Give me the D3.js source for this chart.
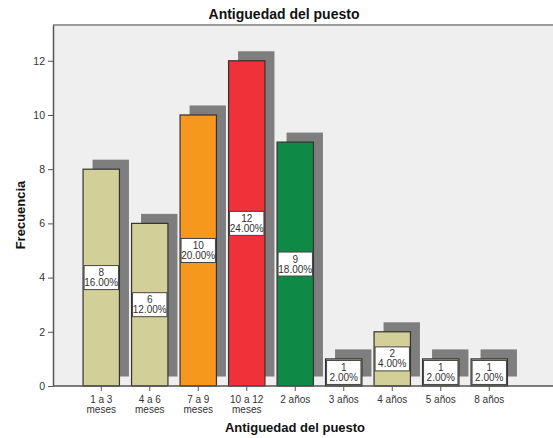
<!DOCTYPE html>
<html>
<head>
<meta charset="utf-8">
<script src="https://cdn.jsdelivr.net/npm/d3@7"></script>
<style>
  html, body { margin: 0; padding: 0; background: #fff; }
  svg { display: block; font-family: Arial, "Liberation Sans", sans-serif; }
</style>
</head>
<body>
<svg id="chart" width="553" height="438"></svg>
<script>
// Frequency of job seniority categories
const categories = ["1 a 3 meses", "4 a 6 meses", "7 a 9 meses", "10 a 12 meses", "2 años", "3 años", "4 años", "5 años", "8 años"];
const tickLines = [["1 a 3", "meses"], ["4 a 6", "meses"], ["7 a 9", "meses"], ["10 a 12", "meses"], ["2 años"], ["3 años"], ["4 años"], ["5 años"], ["8 años"]];
const counts = [8, 6, 10, 12, 9, 1, 2, 1, 1];
const percents = ["16.00%", "12.00%", "20.00%", "24.00%", "18.00%", "2.00%", "4.00%", "2.00%", "2.00%"];
const barColors = ["#D3CF99", "#D3CF99", "#F7971E", "#EF3139", "#0F8A45", "#D3CF99", "#D3CF99", "#D3CF99", "#D3CF99"];
const yTicks = [0, 2, 4, 6, 8, 10, 12];

const svg = d3.select("#chart");
const plot = { left: 53, top: 25, right: 553, bottom: 386 };
const depth = 9.5;
const smallFont = "Arial, 'Liberation Sans', sans-serif";

const x = d3.scaleBand()
  .domain(categories)
  .range([77, 513.5])
  .paddingInner(0.25)
  .paddingOuter(0.125);

const y = d3.scaleLinear()
  .domain([0, 13.32])
  .range([plot.bottom, plot.top]);

const rows = categories.map((c, i) => ({ cat: c, n: counts[i], pct: percents[i], color: barColors[i], lines: tickLines[i] }));

// plot background
svg.append("rect")
  .attr("x", plot.left).attr("y", plot.top)
  .attr("width", plot.right - plot.left).attr("height", plot.bottom - plot.top)
  .attr("fill", "#EFEFEF");

// top frame line
svg.append("line")
  .attr("x1", plot.left).attr("x2", plot.right)
  .attr("y1", plot.top).attr("y2", plot.top)
  .attr("stroke", "#9A9A9A").attr("stroke-width", 2);

// chart title
svg.append("text")
  .attr("x", 284).attr("y", 19)
  .attr("text-anchor", "middle")
  .attr("font-size", 14).attr("font-weight", "bold")
  .attr("fill", "#111")
  .text("Antiguedad del puesto");

// drop shadows behind bars
svg.append("g").selectAll("rect")
  .data(rows).join("rect")
  .attr("x", d => x(d.cat) + depth)
  .attr("y", d => y(d.n) - depth)
  .attr("width", x.bandwidth())
  .attr("height", d => y(0) - y(d.n))
  .attr("fill", "#7E7E7E");

// bars
svg.append("g").selectAll("rect")
  .data(rows).join("rect")
  .attr("x", d => x(d.cat))
  .attr("y", d => y(d.n))
  .attr("width", x.bandwidth())
  .attr("height", d => y(0) - y(d.n))
  .attr("fill", d => d.color)
  .attr("stroke", "#333")
  .attr("stroke-width", 1.2);

// value labels at mid-height of each bar
const lab = svg.append("g").selectAll("g")
  .data(rows).join("g")
  .attr("transform", d => `translate(${x(d.cat) + x.bandwidth() / 2},${y(d.n / 2)})`);

lab.append("rect")
  .attr("x", -x.bandwidth() / 2 + 1)
  .attr("y", -12)
  .attr("width", x.bandwidth() - 2)
  .attr("height", 24)
  .attr("fill", "#fff")
  .attr("stroke", "#444")
  .attr("stroke-width", 1);

lab.append("text")
  .attr("y", -1.5)
  .attr("text-anchor", "middle")
  .attr("font-size", 10).attr("fill", "#333")
  .text(d => d.n);

lab.append("text")
  .attr("y", 8.5)
  .attr("text-anchor", "middle")
  .attr("font-size", 10).attr("fill", "#333")
  .text(d => d.pct);

// y axis
const yAxis = svg.append("g")
  .attr("transform", `translate(${plot.left},0)`)
  .call(d3.axisLeft(y).tickValues(yTicks).tickSize(5).tickSizeOuter(0).tickPadding(3));
yAxis.select(".domain").attr("stroke", "#555").attr("stroke-width", 1.5);
yAxis.selectAll(".tick line").attr("stroke", "#555");
yAxis.selectAll(".tick text").attr("font-size", 10.5).attr("fill", "#333").attr("font-family", smallFont);

// x axis
const xAxis = svg.append("g")
  .attr("transform", `translate(0,${plot.bottom})`)
  .call(d3.axisBottom(x).tickSize(5).tickSizeOuter(0).tickFormat(""));
xAxis.select(".domain").attr("d", `M${plot.left},0H${plot.right}`).attr("stroke", "#555").attr("stroke-width", 1.5);
xAxis.selectAll(".tick line").attr("stroke", "#555");

xAxis.selectAll(".tick").each(function (c, i) {
  const t = d3.select(this).append("text")
    .attr("text-anchor", "middle")
    .attr("font-size", 10).attr("fill", "#333")
    .attr("font-family", smallFont);
  tickLines[i].forEach((s, k) => {
    t.append("tspan").attr("x", 0).attr("y", 16.5 + k * 10.5).text(s);
  });
});

// axis titles
svg.append("text")
  .attr("x", 295).attr("y", 432)
  .attr("text-anchor", "middle")
  .attr("font-size", 13).attr("font-weight", "bold").attr("fill", "#111")
  .text("Antiguedad del puesto");

svg.append("text")
  .attr("transform", "translate(25,215) rotate(-90)")
  .attr("text-anchor", "middle")
  .attr("font-size", 13).attr("font-weight", "bold").attr("fill", "#111")
  .text("Frecuencia");
</script>
</body>
</html>
